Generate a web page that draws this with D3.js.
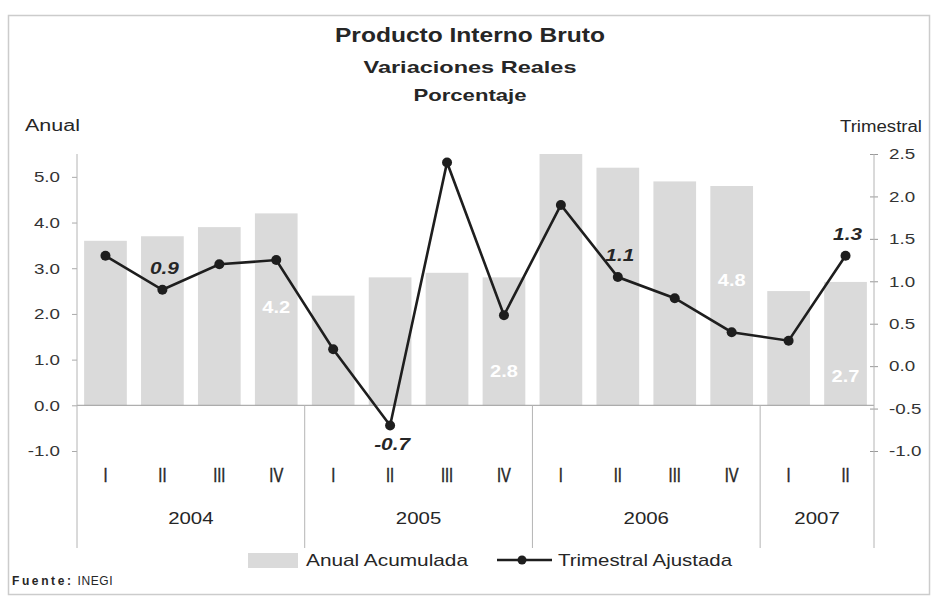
<!DOCTYPE html>
<html>
<head>
<meta charset="utf-8">
<script src="https://cdn.jsdelivr.net/npm/d3@7"></script>
<style>
  body { margin: 0; background: #fff; }
  svg { display: block; }
</style>
</head>
<body>
<div id="chart"></div>
<script>
const quarters = ['I', 'II', 'III', 'IV', 'I', 'II', 'III', 'IV', 'I', 'II', 'III', 'IV', 'I', 'II']
const years = ['2004', '2004', '2004', '2004', '2005', '2005', '2005', '2005', '2006', '2006', '2006', '2006', '2007', '2007']
const anual = [3.6, 3.7, 3.9, 4.2, 2.4, 2.8, 2.9, 2.8, 5.5, 5.2, 4.9, 4.8, 2.5, 2.7]
const trimestral = [1.3, 0.9, 1.2, 1.25, 0.2, -0.7, 2.4, 0.6, 1.9, 1.05, 0.8, 0.4, 0.3, 1.3]
const anualTicks = [-1, 0, 1, 2, 3, 4, 5]
const trimTicks = [-1, -0.5, 0, 0.5, 1, 1.5, 2, 2.5]
// which points get a printed value
const anualLabels = [3, 7, 11, 13]
const trimLabels = { 1: 'above', 5: 'below', 9: 'above', 13: 'above' }

const width = 933
const height = 598
const plotLeft = 77
const plotRight = 874
const plotTop = 154
const plotBottom = 451

const svg = d3.select('#chart').append('svg')
  .attr('width', width)
  .attr('height', height)
  .style('font-family', 'Liberation Sans, Arial, sans-serif')

// the scan is wider than plain Arial, so text gets stretched to fit
function fit(sel, w) {
  sel.attr('textLength', w).attr('lengthAdjust', 'spacingAndGlyphs')
}
function stretch(sel, k) {
  sel.each(function() {
    const l = this.getComputedTextLength()
    d3.select(this).attr('textLength', l * k).attr('lengthAdjust', 'spacingAndGlyphs')
  })
}

// frame
svg.append('rect')
  .attr('x', 8.5).attr('y', 15.5)
  .attr('width', width - 12).attr('height', height - 19)
  .attr('fill', 'white')
  .attr('stroke', '#cccccc')
  .attr('stroke-width', 1.5)

const x = d3.scaleBand()
  .domain(d3.range(quarters.length))
  .range([plotLeft, plotRight])
  .paddingInner(0.25)
  .paddingOuter(0.125)

const yL = d3.scaleLinear().domain([-1, 5.5]).range([plotBottom, plotTop])
const yR = d3.scaleLinear().domain([-1, 2.5]).range([plotBottom, plotTop])

const fmt = d => d.toFixed(1)

// titles
const titles = [
  { t: 'Producto Interno Bruto', y: 42, s: 20, w: 270 },
  { t: 'Variaciones Reales', y: 73, s: 17, w: 213 },
  { t: 'Porcentaje', y: 101, s: 17, w: 113 },
]
titles.forEach(d => {
  svg.append('text')
    .attr('x', 470).attr('y', d.y)
    .attr('text-anchor', 'middle')
    .style('font-weight', 'bold')
    .style('font-size', d.s + 'px')
    .attr('fill', '#262626')
    .text(d.t)
    .call(fit, d.w)
})
svg.append('text').attr('x', 25).attr('y', 131)
  .style('font-size', '16px').attr('fill', '#262626').text('Anual')
  .call(fit, 55)
svg.append('text').attr('x', 922).attr('y', 132).attr('text-anchor', 'end')
  .style('font-size', '16px').attr('fill', '#262626').text('Trimestral')
  .call(fit, 82)

// bars
svg.append('g').selectAll('rect')
  .data(anual)
  .join('rect')
  .attr('x', (d, i) => x(i))
  .attr('y', d => yL(d))
  .attr('width', x.bandwidth())
  .attr('height', d => yL(0) - yL(d))
  .attr('fill', '#dadada')

// zero line
svg.append('line')
  .attr('x1', plotLeft).attr('x2', plotRight)
  .attr('y1', yL(0)).attr('y2', yL(0))
  .attr('stroke', '#9a9a9a').attr('stroke-width', 1)

// left axis
const gL = svg.append('g')
  .attr('transform', 'translate(' + plotLeft + ',0)')
  .call(d3.axisLeft(yL).tickValues(anualTicks).tickFormat(fmt).tickSize(5))
gL.select('.domain').remove()
gL.selectAll('.tick line').attr('stroke', '#aaa')
gL.selectAll('.tick text')
  .attr('x', -17)
  .style('font-size', '15px')
  .attr('fill', '#333')
  .call(stretch, 1.25)

// right axis
const gR = svg.append('g')
  .attr('transform', 'translate(' + plotRight + ',0)')
  .call(d3.axisRight(yR).tickValues(trimTicks).tickFormat(fmt).tickSize(4))
gR.select('.domain').remove()
gR.selectAll('.tick line').attr('x1', -4).attr('stroke', '#999')
gR.selectAll('.tick text')
  .attr('x', 15)
  .style('font-size', '15px')
  .attr('fill', '#333')
  .call(stretch, 1.25)

// vertical axis lines and year separators
const half = x.step() * x.paddingInner() / 2
const seps = [plotLeft, x(4) - half, x(8) - half, x(12) - half, plotRight]
seps.forEach((s, i) => {
  svg.append('line')
    .attr('x1', s).attr('x2', s)
    .attr('y1', (i === 0 || i === seps.length - 1) ? plotTop : yL(0))
    .attr('y2', 548)
    .attr('stroke', '#b4b4b4').attr('stroke-width', 1)
})

// quarter labels
const gX = svg.append('g')
  .attr('transform', 'translate(0,464)')
  .call(d3.axisBottom(x).tickSize(0).tickFormat(i => quarters[i]))
gX.select('.domain').remove()
gX.selectAll('.tick text')
  .style('font-size', '21px')
  .attr('fill', '#262626')
  .attr('stroke', '#262626')
  .attr('stroke-width', 0.5)
  .call(stretch, 0.7)

// year labels
const yearNames = Array.from(new Set(years))
yearNames.forEach(yr => {
  const idx = years.map((v, i) => v === yr ? i : -1).filter(i => i >= 0)
  const cx = (x(idx[0]) + x(idx[idx.length - 1]) + x.bandwidth()) / 2
  svg.append('text')
    .attr('x', cx).attr('y', 524)
    .attr('text-anchor', 'middle')
    .style('font-size', '17px')
    .attr('fill', '#262626')
    .text(yr)
    .call(stretch, 1.2)
})

// line
const line = d3.line()
  .x((d, i) => x(i) + x.bandwidth() / 2)
  .y(d => yR(d))

svg.append('path')
  .datum(trimestral)
  .attr('d', line)
  .attr('fill', 'none')
  .attr('stroke', '#1e1e1e')
  .attr('stroke-width', 2.6)

svg.append('g').selectAll('circle')
  .data(trimestral)
  .join('circle')
  .attr('cx', (d, i) => x(i) + x.bandwidth() / 2)
  .attr('cy', d => yR(d))
  .attr('r', 5)
  .attr('fill', '#1e1e1e')

// bar value labels (white)
svg.append('g').selectAll('text')
  .data(anualLabels)
  .join('text')
  .attr('x', i => x(i) + x.bandwidth() / 2)
  .attr('y', i => yL(anual[i]) + 100)
  .attr('text-anchor', 'middle')
  .style('font-weight', 'bold')
  .style('font-size', '16px')
  .attr('fill', 'white')
  .text(i => fmt(anual[i]))
  .call(stretch, 1.25)

// line value labels
Object.keys(trimLabels).forEach(k => {
  const i = +k
  const pos = trimLabels[k]
  svg.append('text')
    .attr('x', x(i) + x.bandwidth() / 2 + 2)
    .attr('y', yR(trimestral[i]) + (pos === 'above' ? -16 : 24))
    .attr('text-anchor', 'middle')
    .style('font-weight', 'bold')
    .style('font-style', 'italic')
    .style('font-size', '16px')
    .attr('fill', '#262626')
    .text(fmt(trimestral[i]))
    .call(stretch, 1.3)
})

// legend
const lg = svg.append('g').attr('transform', 'translate(0,560)')
lg.append('rect').attr('x', 248).attr('y', -7).attr('width', 50).attr('height', 15).attr('fill', '#dadada')
lg.append('text').attr('x', 306).attr('y', 6)
  .style('font-size', '17px').attr('fill', '#262626').text('Anual Acumulada')
  .call(fit, 162)
lg.append('line').attr('x1', 497).attr('x2', 552).attr('y1', 0).attr('y2', 0)
  .attr('stroke', '#1e1e1e').attr('stroke-width', 2.6)
lg.append('circle').attr('cx', 522).attr('cy', 0).attr('r', 4.5).attr('fill', '#1e1e1e')
lg.append('text').attr('x', 558).attr('y', 6)
  .style('font-size', '17px').attr('fill', '#262626').text('Trimestral Ajustada')
  .call(fit, 174)

// source
const src = svg.append('text').attr('x', 12).attr('y', 585)
  .style('font-size', '12px').attr('fill', '#262626')
src.append('tspan').style('font-weight', 'bold').style('letter-spacing', '2.6px').text('Fuente:')
src.append('tspan').style('letter-spacing', '0.6px').text(' INEGI')
</script>
</body>
</html>
